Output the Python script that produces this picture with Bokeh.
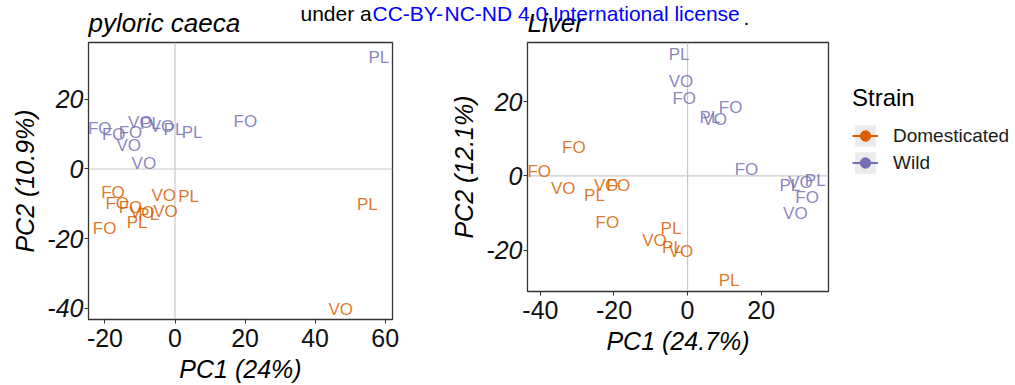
from bokeh.plotting import figure
from bokeh.models import (ColumnDataSource, FixedTicker, Span, Legend, LegendItem,
                          Title, Range1d)
from bokeh.layouts import row
from bokeh.embed import file_html
from bokeh.resources import INLINE
from bokeh.core.properties import value

FONT = "Liberation Sans"
ORANGE = "#D95F02"
PURPLE = "#7570B3"
BLUE = "#0000FF"

strains = ["Domesticated", "Wild"]
strain_colors = [ORANGE, PURPLE]

# ---------------- pyloric caeca ----------------
pc_title = "pyloric caeca"
pc_xlabel = "PC1 (24%)"
pc_ylabel = "PC2 (10.9%)"
pc_xticks = [-20, 0, 20, 40, 60]
pc_yticks = [-40, -20, 0, 20]

pc_dom_labels = ["FO", "FO", "FO", "FO", "VO", "VO", "VO", "VO", "PL", "PL", "PL", "PL"]
pc_dom_pc1 = [-17.7, -16.5, -12.7, -20.1, -3.2, 47.3, -2.7, -9.4, 3.9, 54.9, -10.8, -7.5]
pc_dom_pc2 = [-6.8, -10.0, -11.0, -17.0, -7.6, -40.2, -12.1, -12.4, -7.9, -10.2, -15.3, -13.1]

pc_wild_labels = ["PL", "FO", "FO", "FO", "FO", "VO", "VO", "VO", "PL", "VO", "PL", "PL"]
pc_wild_pc1 = [58.2, 20.1, -21.5, -17.5, -12.7, -13.2, -8.9, -9.9, -7.0, -3.7, -0.3, 4.9]
pc_wild_pc2 = [32.1, 13.6, 11.5, 9.8, 10.6, 6.8, 1.5, 13.4, 13.0, 12.2, 11.3, 10.6]

# ---------------- liver ----------------
lv_title = "Liver"
lv_xlabel = "PC1 (24.7%)"
lv_ylabel = "PC2 (12.1%)"
lv_xticks = [-40, -20, 0, 20]
lv_yticks = [-20, 0, 20]

lv_dom_labels = ["FO", "FO", "FO", "FO", "VO", "VO", "VO", "VO", "PL", "PL", "PL", "PL"]
lv_dom_pc1 = [-30.9, -40.3, -18.8, -21.8, -33.8, -22.1, -9.0, -1.8, -25.3, -4.5, -4.1, 11.3]
lv_dom_pc2 = [7.6, 1.3, -2.5, -12.5, -3.4, -2.7, -17.4, -20.3, -5.2, -14.3, -19.4, -28.3]

lv_wild_labels = ["PL", "PL", "PL", "PL", "VO", "VO", "VO", "VO", "FO", "FO", "FO", "FO"]
lv_wild_pc1 = [-2.3, 6.1, 27.8, 34.7, -1.8, 7.4, 30.7, 29.3, -0.9, 11.7, 16.0, 32.5]
lv_wild_pc2 = [32.7, 15.8, -2.7, -1.2, 25.5, 15.1, -1.8, -10.2, 20.8, 18.4, 1.8, -5.7]

# preprint notice text (split across the two panels)
notice_pc = [("under a", "black", 212), ("CC-BY-", BLUE, 284)]
notice_lv = [("NC-ND 4.0 International license", BLUE, -83), (".", "black", 216)]

NAN = float("nan")


def make_panel(title, xlabel, ylabel, xr, yr, xticks, yticks, fw, fh,
               borders, series, xlab_standoff, xaxlab_standoff, notice):
    bl, br, bt, bb = borders
    p = figure(frame_width=fw, frame_height=fh, title=None,
               x_range=Range1d(*xr), y_range=Range1d(*yr),
               output_backend="svg", toolbar_location=None,
               min_border_left=bl, min_border_right=br, min_border_top=bt,
               min_border_bottom=bb)
    p.background_fill_color = "white"
    p.border_fill_color = "white"
    p.outline_line_color = "#333333"
    p.outline_line_width = 1.3
    p.xgrid.visible = False
    p.ygrid.visible = False

    p.add_layout(Title(text=title, text_font=FONT, text_font_style="italic",
                       text_font_size="26px", text_color="black", align="left",
                       standoff=9), "above")
    # notice pieces: zero-height titles drawn over the same band as the title
    for txt, col, off in notice:
        p.add_layout(Title(text=txt, text_font=FONT, text_font_style="normal",
                           text_font_size="21px", text_color=col, align="left",
                           offset=off, standoff=-47, border_line_color=None,
                           background_fill_color=None), "above")

    for ax in (p.xaxis[0], p.yaxis[0]):
        ax.axis_line_color = "#333333"
        ax.major_tick_line_color = "#333333"
        ax.major_tick_out = 4
        ax.major_tick_in = 0
        ax.minor_tick_line_color = None
        ax.major_label_text_font = FONT
        ax.major_label_text_font_size = "25px"
        ax.major_label_text_color = "#111111"
        ax.axis_label_text_font = FONT
        ax.axis_label_text_font_size = "25px"
        ax.axis_label_text_font_style = "italic"
        ax.axis_label_text_color = "black"

    p.xaxis[0].ticker = FixedTicker(ticks=xticks)
    p.yaxis[0].ticker = FixedTicker(ticks=yticks)
    p.xaxis[0].major_label_overrides = {t: str(t) for t in xticks}
    p.yaxis[0].major_label_overrides = {t: str(t) for t in yticks}
    p.xaxis[0].axis_label = xlabel
    p.yaxis[0].axis_label = ylabel
    p.yaxis[0].major_label_text_font_style = "italic"
    p.xaxis[0].major_label_standoff = xlab_standoff
    p.xaxis[0].axis_label_standoff = xaxlab_standoff
    p.yaxis[0].major_label_standoff = 1
    p.yaxis[0].axis_label_standoff = 5

    p.add_layout(Span(location=0, dimension="width", line_color="#C8C8C8",
                      line_width=1.2, level="underlay"))
    p.add_layout(Span(location=0, dimension="height", line_color="#C8C8C8",
                      line_width=1.2, level="underlay"))

    for (labels, xs, ys), color in zip(series, strain_colors):
        src = ColumnDataSource(dict(x=xs, y=ys, t=labels))
        p.text(x="x", y="y", text="t", source=src, text_align="center",
               text_baseline="middle", text_font_size="17px", text_font=value(FONT),
               text_color=color, text_alpha=0.85)
    return p


# frame: 88..392 x 42..319 ; canvas 0..444
p1 = make_panel(pc_title, pc_xlabel, pc_ylabel, (-24.7, 62.1), (-43.2, 36.3),
                pc_xticks, pc_yticks, 304, 277, (88, 52, 42, 66),
                [(pc_dom_labels, pc_dom_pc1, pc_dom_pc2),
                 (pc_wild_labels, pc_wild_pc1, pc_wild_pc2)], 5, 5, notice_pc)

# frame: 527..828 x 42..291 ; canvas 444..1015
p2 = make_panel(lv_title, lv_xlabel, lv_ylabel, (-43.5, 38.3), (-31.2, 36.0),
                lv_xticks, lv_yticks, 301, 249, (83, 187, 42, 66),
                [(lv_dom_labels, lv_dom_pc1, lv_dom_pc2),
                 (lv_wild_labels, lv_wild_pc1, lv_wild_pc2)], 5, 5, notice_lv)

# legend (line + point keys on a grey key background)
items = []
for name, color in zip(strains, strain_colors):
    bg = p2.quad(left=[NAN], right=[NAN], top=[NAN], bottom=[NAN],
                 fill_color="#EBEBEB", line_color=None)
    ln = p2.line(x=[NAN], y=[NAN], line_color=color, line_width=2)
    pt = p2.scatter(x=[NAN], y=[NAN], marker="circle", fill_color=color,
                    line_color=color)
    items.append(LegendItem(label=name, renderers=[bg, ln, pt]))

legend = Legend(items=items, title="Strain", location=(24, 115),
                title_text_font=FONT, title_text_font_size="24px",
                title_text_color="black", title_text_font_style="normal",
                title_standoff=10,
                label_text_font=FONT, label_text_font_size="19px",
                label_text_color="#1a1a1a",
                glyph_width=26, glyph_height=27, label_height=27,
                label_standoff=15, spacing=0, padding=0, margin=0,
                border_line_color=None, background_fill_alpha=0)
p2.add_layout(legend, "right")

layout = row(p1, p2)
open("out.html", "w").write(file_html(layout, INLINE))
